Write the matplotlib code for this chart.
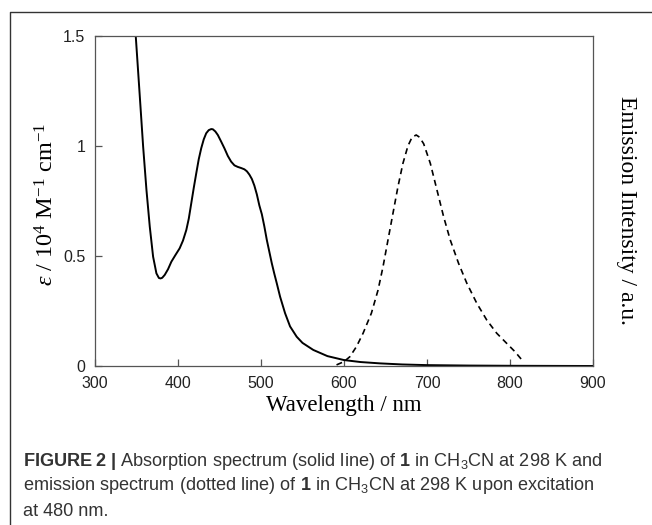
import matplotlib
matplotlib.use("Agg")
import matplotlib.pyplot as plt
from matplotlib.lines import Line2D

plt.rcParams['mathtext.fontset'] = 'custom'
plt.rcParams['mathtext.it'] = 'Liberation Serif:italic'
plt.rcParams['mathtext.bf'] = 'Liberation Sans:bold'
plt.rcParams['mathtext.default'] = 'regular'

# absorption spectrum (solid), epsilon / 10^4 M-1 cm-1
abs_wl = [345, 349, 354, 358, 362, 366, 370, 374, 377, 379, 381, 384, 388,
          392, 397, 402, 406, 410, 413, 416, 419, 422, 425, 428, 431, 434,
          437, 440, 442, 445, 448, 452, 456, 460, 464, 468, 472, 476, 480,
          483, 486, 489, 492, 495, 498, 501, 504, 507, 510, 513, 516, 519,
          523, 529, 535, 543, 550, 563, 580, 600, 620, 643, 670, 700, 750,
          800, 850, 900]
abs_eps = [1.75, 1.505, 1.224, 0.997, 0.80, 0.633, 0.497, 0.421, 0.40, 0.398,
           0.401, 0.414, 0.44, 0.474, 0.505, 0.535, 0.57, 0.618, 0.67, 0.74,
           0.81, 0.876, 0.94, 0.99, 1.03, 1.058, 1.072, 1.077, 1.076, 1.066,
           1.05, 1.02, 0.989, 0.955, 0.929, 0.912, 0.905, 0.9, 0.894, 0.885,
           0.87, 0.85, 0.82, 0.78, 0.73, 0.69, 0.635, 0.573, 0.52, 0.467,
           0.42, 0.376, 0.315, 0.24, 0.18, 0.133, 0.105, 0.073, 0.045, 0.027,
           0.018, 0.012, 0.007, 0.004, 0.002, 0.001, 0.0005, 0.0]

# emission spectrum (dashed), arbitrary units
em_wl = [591, 600, 607, 615, 623, 633, 641, 647, 653, 659, 665, 671, 677,
         682, 687, 691, 696, 704, 712, 720, 728, 738, 748, 760, 772, 784,
         796, 806, 816]
em_int = [0.005, 0.02, 0.042, 0.088, 0.149, 0.24, 0.345, 0.451, 0.573, 0.694,
          0.815, 0.921, 1.0, 1.04, 1.05, 1.04, 1.01, 0.921, 0.80, 0.679,
          0.573, 0.467, 0.376, 0.285, 0.209, 0.149, 0.103, 0.065, 0.02]

x_ticks = [300, 400, 500, 600, 700, 800, 900]
y_ticks = [0, 0.5, 1, 1.5]
y_tick_labels = ['0', '0.5', '1', '1.5']

caption_lines = [
    r'$\mathbf{FIGURE\ 2\ |}$ Absorption spectrum (solid line) of $\mathbf{1}$ in CH$_{3}$CN at 298 K and',
    r'emission spectrum (dotted line) of $\mathbf{1}$ in CH$_{3}$CN at 298 K upon excitation',
    r'at 480 nm.',
]

W, H = 652, 525
fig = plt.figure(figsize=(W / 100, H / 100), dpi=100)

ax = fig.add_axes([95 / W, 1 - 366 / H, 498 / W, 330 / H])
spine_col = '#555555'
for s in ax.spines.values():
    s.set_color(spine_col)
    s.set_linewidth(0.9)

ax.plot(abs_wl, abs_eps, color='black', lw=1.4, solid_joinstyle='round')
ax.plot(em_wl, em_int, color='black', lw=1.2, dashes=(3.6, 2.6))

ax.set_xlim(300, 900)
ax.set_ylim(0, 1.5)
ax.set_xticks(x_ticks)
ax.set_yticks(y_ticks)
ax.set_yticklabels(y_tick_labels)
ax.tick_params(direction='in', length=5, width=0.9, color=spine_col,
               labelsize=11.5, pad=7)
for lab in ax.get_xticklabels() + ax.get_yticklabels():
    lab.set_fontfamily('Liberation Sans')
    lab.set_color('#222222')

serif = 'Liberation Serif'
ax.set_xlabel('Wavelength / nm', fontfamily=serif, fontsize=16.5, labelpad=3)
ax.set_ylabel(r'$\mathit{\varepsilon}$ / 10$^{4}$ M$^{-1}$ cm$^{-1}$',
              fontfamily=serif, fontsize=17.5, va='center')
ax.yaxis.set_label_coords(-0.097, 0.49)

fig.text(627 / W, 1 - 210 / H, 'Emission Intensity / a.u.', rotation=-90,
         fontfamily=serif, fontsize=17, ha='center', va='center')

# outer frame (top and left only)
fig.add_artist(Line2D([10 / W, 10 / W, 1.0], [0.0, 1 - 12 / H, 1 - 12 / H],
                      transform=fig.transFigure, color='#333333', lw=1.0))

for i, line in enumerate(caption_lines):
    fig.text(23 / W, 1 - (461 + 25 * i) / H, line, fontfamily='Liberation Sans',
             fontsize=13.1, color='#333333', ha='left', va='center')

fig.savefig('out.png', dpi=100)
